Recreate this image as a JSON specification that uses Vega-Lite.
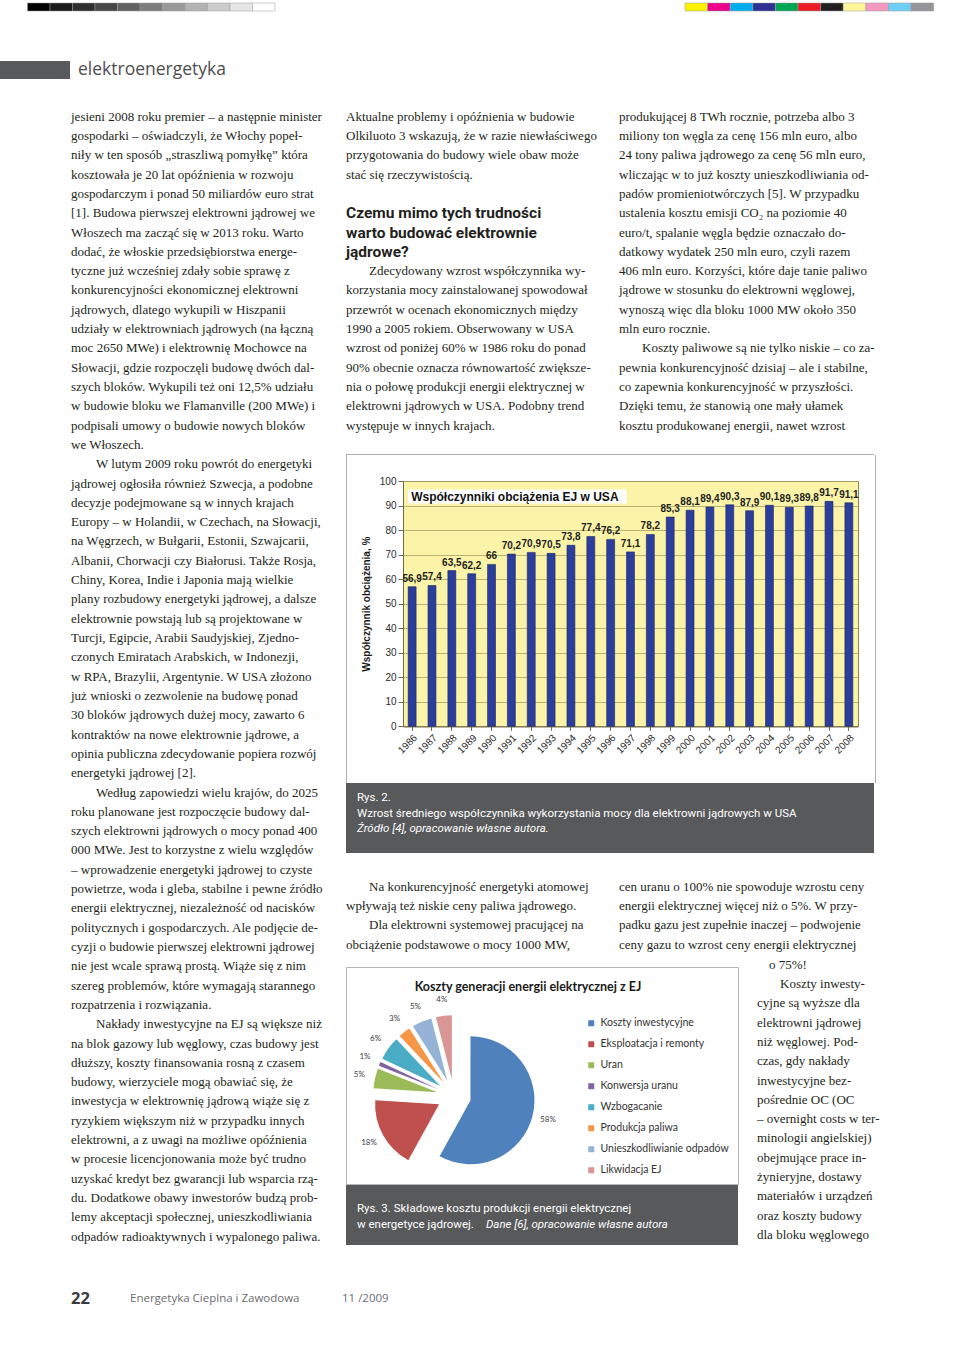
{
"$schema": "https://vega.github.io/schema/vega-lite/v6.json",
"background": "white",
"padding": {"left": 0, "top": 2, "right": 0, "bottom": 0},
"spacing": 0,
"resolve": {"scale": {"color": "independent"}, "legend": {"color": "independent"}},
"config": {
  "view": {"stroke": null},
  "locale": {"number": {"decimal": ",", "thousands": "\u00a0", "grouping": [3], "currency": ["", "\u00a0zł"]}},
  "text": {"font": "Liberation Serif", "fontSize": 13, "color": "#231f20", "align": "left", "baseline": "middle"},
  "axis": {"labelFont": "Liberation Sans", "titleFont": "Liberation Sans"}
},
"datasets": {
  "colA": [
    {"line": 0, "text": "jesieni 2008 roku premier – a następnie minister"},
    {"line": 1, "text": "gospodarki – oświadczyli, że Włochy popeł-"},
    {"line": 2, "text": "niły w ten sposób „straszliwą pomyłkę” która"},
    {"line": 3, "text": "kosztowała je 20 lat opóźnienia w rozwoju"},
    {"line": 4, "text": "gospodarczym i ponad 50 miliardów euro strat"},
    {"line": 5, "text": "[1]. Budowa pierwszej elektrowni jądrowej we"},
    {"line": 6, "text": "Włoszech ma zacząć się w 2013 roku. Warto"},
    {"line": 7, "text": "dodać, że włoskie przedsiębiorstwa energe-"},
    {"line": 8, "text": "tyczne już wcześniej zdały sobie sprawę z"},
    {"line": 9, "text": "konkurencyjności ekonomicznej elektrowni"},
    {"line": 10, "text": "jądrowych, dlatego wykupili w Hiszpanii"},
    {"line": 11, "text": "udziały w elektrowniach jądrowych (na łączną"},
    {"line": 12, "text": "moc 2650 MWe) i elektrownię Mochowce na"},
    {"line": 13, "text": "Słowacji, gdzie rozpoczęli budowę dwóch dal-"},
    {"line": 14, "text": "szych bloków. Wykupili też oni 12,5% udziału"},
    {"line": 15, "text": "w budowie bloku we Flamanville (200 MWe) i"},
    {"line": 16, "text": "podpisali umowy o budowie nowych bloków"},
    {"line": 17, "text": "we Włoszech."},
    {"line": 19, "text": "jądrowej ogłosiła również Szwecja, a podobne"},
    {"line": 20, "text": "decyzje podejmowane są w innych krajach"},
    {"line": 21, "text": "Europy – w Holandii, w Czechach, na Słowacji,"},
    {"line": 22, "text": "na Węgrzech, w Bułgarii, Estonii, Szwajcarii,"},
    {"line": 23, "text": "Albanii, Chorwacji czy Białorusi. Także Rosja,"},
    {"line": 24, "text": "Chiny, Korea, Indie i Japonia mają wielkie"},
    {"line": 25, "text": "plany rozbudowy energetyki jądrowej, a dalsze"},
    {"line": 26, "text": "elektrownie powstają lub są projektowane w"},
    {"line": 27, "text": "Turcji, Egipcie, Arabii Saudyjskiej, Zjedno-"},
    {"line": 28, "text": "czonych Emiratach Arabskich, w Indonezji,"},
    {"line": 29, "text": "w RPA, Brazylii, Argentynie. W USA złożono"},
    {"line": 30, "text": "już wnioski o zezwolenie na budowę ponad"},
    {"line": 31, "text": "30 bloków jądrowych dużej mocy, zawarto 6"},
    {"line": 32, "text": "kontraktów na nowe elektrownie jądrowe, a"},
    {"line": 33, "text": "opinia publiczna zdecydowanie popiera rozwój"},
    {"line": 34, "text": "energetyki jądrowej [2]."},
    {"line": 36, "text": "roku planowane jest rozpoczęcie budowy dal-"},
    {"line": 37, "text": "szych elektrowni jądrowych o mocy ponad 400"},
    {"line": 38, "text": "000 MWe. Jest to korzystne z wielu względów"},
    {"line": 39, "text": "– wprowadzenie energetyki jądrowej to czyste"},
    {"line": 40, "text": "powietrze, woda i gleba, stabilne i pewne źródło"},
    {"line": 41, "text": "energii elektrycznej, niezależność od nacisków"},
    {"line": 42, "text": "politycznych i gospodarczych. Ale podjęcie de-"},
    {"line": 43, "text": "cyzji o budowie pierwszej elektrowni jądrowej"},
    {"line": 44, "text": "nie jest wcale sprawą prostą. Wiąże się z nim"},
    {"line": 45, "text": "szereg problemów, które wymagają starannego"},
    {"line": 46, "text": "rozpatrzenia i rozwiązania."},
    {"line": 48, "text": "na blok gazowy lub węglowy, czas budowy jest"},
    {"line": 49, "text": "dłuższy, koszty finansowania rosną z czasem"},
    {"line": 50, "text": "budowy, wierzyciele mogą obawiać się, że"},
    {"line": 51, "text": "inwestycja w elektrownię jądrową wiąże się z"},
    {"line": 52, "text": "ryzykiem większym niż w przypadku innych"},
    {"line": 53, "text": "elektrowni, a z uwagi na możliwe opóźnienia"},
    {"line": 54, "text": "w procesie licencjonowania może być trudno"},
    {"line": 55, "text": "uzyskać kredyt bez gwarancji lub wsparcia rzą-"},
    {"line": 56, "text": "du. Dodatkowe obawy inwestorów budzą prob-"},
    {"line": 57, "text": "lemy akceptacji społecznej, unieszkodliwiania"},
    {"line": 58, "text": "odpadów radioaktywnych i wypalonego paliwa."}
  ],
  "colAi": [
    {"line": 18, "text": "W lutym 2009 roku powrót do energetyki"},
    {"line": 35, "text": "Według zapowiedzi wielu krajów, do 2025"},
    {"line": 47, "text": "Nakłady inwestycyjne na EJ są większe niż"}
  ],
  "bTop": [
    {"line": 0, "text": "Aktualne problemy i opóźnienia w budowie"},
    {"line": 1, "text": "Olkiluoto 3 wskazują, że w razie niewłaściwego"},
    {"line": 2, "text": "przygotowania do budowy wiele obaw może"},
    {"line": 3, "text": "stać się rzeczywistością."},
    {"line": 9, "text": "korzystania mocy zainstalowanej spowodował"},
    {"line": 10, "text": "przewrót w ocenach ekonomicznych między"},
    {"line": 11, "text": "1990 a 2005 rokiem. Obserwowany w USA"},
    {"line": 12, "text": "wzrost od poniżej 60% w 1986 roku do ponad"},
    {"line": 13, "text": "90% obecnie oznacza równowartość zwiększe-"},
    {"line": 14, "text": "nia o połowę produkcji energii elektrycznej w"},
    {"line": 15, "text": "elektrowni jądrowych w USA. Podobny trend"},
    {"line": 16, "text": "występuje w innych krajach."}
  ],
  "bTopi": [
    {"line": 8, "text": "Zdecydowany wzrost współczynnika wy-"}
  ],
  "bHead": [
    {"line": 5, "text": "Czemu mimo tych trudności"},
    {"line": 6, "text": "warto budować elektrownie"},
    {"line": 7, "text": "jądrowe?"}
  ],
  "cTop": [
    {"line": 0, "text": "produkującej 8 TWh rocznie, potrzeba albo 3"},
    {"line": 1, "text": "miliony ton węgla za cenę 156 mln euro, albo"},
    {"line": 2, "text": "24 tony paliwa jądrowego za cenę 56 mln euro,"},
    {"line": 3, "text": "wliczając w to już koszty unieszkodliwiania od-"},
    {"line": 4, "text": "padów promieniotwórczych [5]. W przypadku"},
    {"line": 5, "text": "ustalenia kosztu emisji CO₂ na poziomie 40"},
    {"line": 6, "text": "euro/t, spalanie węgla będzie oznaczało do-"},
    {"line": 7, "text": "datkowy wydatek 250 mln euro, czyli razem"},
    {"line": 8, "text": "406 mln euro. Korzyści, które daje tanie paliwo"},
    {"line": 9, "text": "jądrowe w stosunku do elektrowni węglowej,"},
    {"line": 10, "text": "wynoszą więc dla bloku 1000 MW około 350"},
    {"line": 11, "text": "mln euro rocznie."},
    {"line": 13, "text": "pewnia konkurencyjność dzisiaj – ale i stabilne,"},
    {"line": 14, "text": "co zapewnia konkurencyjność w przyszłości."},
    {"line": 15, "text": "Dzięki temu, że stanowią one mały ułamek"},
    {"line": 16, "text": "kosztu produkowanej energii, nawet wzrost"}
  ],
  "cTopi": [
    {"line": 12, "text": "Koszty paliwowe są nie tylko niskie – co za-"}
  ],
  "bBot": [
    {"line": 1, "text": "wpływają też niskie ceny paliwa jądrowego."},
    {"line": 3, "text": "obciążenie podstawowe o mocy 1000 MW,"}
  ],
  "bBoti": [
    {"line": 0, "text": "Na konkurencyjność energetyki atomowej"},
    {"line": 2, "text": "Dla elektrowni systemowej pracującej na"}
  ],
  "cBot": [
    {"line": 0, "text": "cen uranu o 100% nie spowoduje wzrostu ceny"},
    {"line": 1, "text": "energii elektrycznej więcej niż o 5%. W przy-"},
    {"line": 2, "text": "padku gazu jest zupełnie inaczej – podwojenie"},
    {"line": 3, "text": "ceny gazu to wzrost ceny energii elektrycznej"}
  ],
  "colD": [
    {"line": 2, "text": "cyjne są wyższe dla"},
    {"line": 3, "text": "elektrowni jądrowej"},
    {"line": 4, "text": "niż węglowej. Pod-"},
    {"line": 5, "text": "czas, gdy nakłady"},
    {"line": 6, "text": "inwestycyjne bez-"},
    {"line": 7, "text": "pośrednie OC (OC"},
    {"line": 8, "text": "– overnight costs w ter-"},
    {"line": 9, "text": "minologii angielskiej)"},
    {"line": 10, "text": "obejmujące prace in-"},
    {"line": 11, "text": "żynieryjne, dostawy"},
    {"line": 12, "text": "materiałów i urządzeń"},
    {"line": 13, "text": "oraz koszty budowy"},
    {"line": 14, "text": "dla bloku węglowego"}
  ],
  "colDi": [
    {"line": 1, "text": "Koszty inwesty-"}
  ],
  "colDc": [
    {"line": 0, "text": "o 75%!"}
  ],
  "bars": [
    {"year": "1986", "value": 56.9}, {"year": "1987", "value": 57.4}, {"year": "1988", "value": 63.5},
    {"year": "1989", "value": 62.2}, {"year": "1990", "value": 66}, {"year": "1991", "value": 70.2},
    {"year": "1992", "value": 70.9}, {"year": "1993", "value": 70.5}, {"year": "1994", "value": 73.8},
    {"year": "1995", "value": 77.4}, {"year": "1996", "value": 76.2}, {"year": "1997", "value": 71.1},
    {"year": "1998", "value": 78.2}, {"year": "1999", "value": 85.3}, {"year": "2000", "value": 88.1},
    {"year": "2001", "value": 89.4}, {"year": "2002", "value": 90.3}, {"year": "2003", "value": 87.9},
    {"year": "2004", "value": 90.1}, {"year": "2005", "value": 89.3}, {"year": "2006", "value": 89.8},
    {"year": "2007", "value": 91.7}, {"year": "2008", "value": 91.1}
  ],
  "pie": [
    {"k": "Koszty inwestycyjne", "share": 0.58},
    {"k": "Eksploatacja i remonty", "share": 0.18},
    {"k": "Uran", "share": 0.05},
    {"k": "Konwersja uranu", "share": 0.01},
    {"k": "Wzbogacanie", "share": 0.06},
    {"k": "Produkcja paliwa", "share": 0.03},
    {"k": "Unieszkodliwianie odpadów", "share": 0.05},
    {"k": "Likwidacja EJ", "share": 0.04}
  ]
},
"vconcat": [
  {"hconcat": [
    {"width": 480, "height": 8, "data": {"values": [{"i": 1}, {"i": 2}, {"i": 3}, {"i": 4}, {"i": 5}, {"i": 6}, {"i": 7}, {"i": 8}, {"i": 9}, {"i": 10}, {"i": 11}]},
     "mark": {"type": "bar", "stroke": "#9a9a9a", "strokeWidth": 0.5},
     "encoding": {
       "x": {"field": "i", "type": "ordinal", "scale": {"range": [27.5, 275], "paddingInner": 0, "paddingOuter": 0}, "axis": null},
       "color": {"field": "i", "type": "ordinal", "scale": {"range": ["#000000", "#1a1a1a", "#2e2e2e", "#474747", "#616161", "#7d7d7d", "#999999", "#b3b3b3", "#cccccc", "#e6e6e6", "#ffffff"]}, "legend": null}
     }},
    {"width": 480, "height": 8, "data": {"values": [{"i": 1}, {"i": 2}, {"i": 3}, {"i": 4}, {"i": 5}, {"i": 6}, {"i": 7}, {"i": 8}, {"i": 9}, {"i": 10}, {"i": 11}]},
     "mark": {"type": "bar", "stroke": "#9a9a9a", "strokeWidth": 0.5},
     "encoding": {
       "x": {"field": "i", "type": "ordinal", "scale": {"range": [205, 453.7], "paddingInner": 0, "paddingOuter": 0}, "axis": null},
       "color": {"field": "i", "type": "ordinal", "scale": {"range": ["#fff200", "#ec008c", "#00aeef", "#2e3192", "#00a651", "#ed1c24", "#231f20", "#fff799", "#f49ac1", "#6dcff6", "#939598"]}, "legend": null}
     }}
  ], "spacing": 0, "resolve": {"scale": {"color": "independent"}, "legend": {"color": "independent"}}},
  {"width": 1, "height": 49, "data": {"values": []}, "mark": {"type": "point", "opacity": 0}},
  {"hconcat": [
    {"width": 70, "height": 18, "view": {"fill": "#58595b"}, "data": {"values": []}, "mark": {"type": "point", "opacity": 0}},
    {"width": 300, "height": 18, "data": {"values": [{"t": "elektroenergetyka"}]},
     "mark": {"type": "text", "font": "Open Sans", "fontSize": 17.5, "color": "#4d4d4f"},
     "encoding": {"x": {"value": 0}, "text": {"field": "t", "type": "nominal"}}}
  ], "spacing": 8},
  {"width": 1, "height": 27.8, "data": {"values": []}, "mark": {"type": "point", "opacity": 0}},
  {"hconcat": [
    {"width": 71, "height": 1, "data": {"values": []}, "mark": {"type": "point", "opacity": 0}},
    {"width": 255, "height": 1139.3, "layer": [
      {"data": {"name": "colA"}, "mark": {"type": "text"},
       "encoding": {"x": {"value": 0}, "y": {"field": "line", "type": "quantitative", "scale": {"domain": [-0.5, 58.5], "reverse": true, "zero": false, "nice": false}, "axis": null}, "text": {"field": "text", "type": "nominal"}}},
      {"data": {"name": "colAi"}, "mark": {"type": "text", "dx": 25},
       "encoding": {"x": {"value": 0}, "y": {"field": "line", "type": "quantitative", "scale": {"domain": [-0.5, 58.5], "reverse": true, "zero": false, "nice": false}, "axis": null}, "text": {"field": "text", "type": "nominal"}}}
    ]},
    {"width": 19, "height": 1, "data": {"values": []}, "mark": {"type": "point", "opacity": 0}},
    {"vconcat": [
      {"hconcat": [
        {"width": 255, "height": 328.27, "layer": [
          {"data": {"name": "bTop"}, "mark": {"type": "text"},
           "encoding": {"x": {"value": 0}, "y": {"field": "line", "type": "quantitative", "scale": {"domain": [-0.5, 16.5], "reverse": true, "zero": false, "nice": false}, "axis": null}, "text": {"field": "text", "type": "nominal"}}},
          {"data": {"name": "bTopi"}, "mark": {"type": "text", "dx": 23},
           "encoding": {"x": {"value": 0}, "y": {"field": "line", "type": "quantitative", "scale": {"domain": [-0.5, 16.5], "reverse": true, "zero": false, "nice": false}, "axis": null}, "text": {"field": "text", "type": "nominal"}}},
          {"data": {"name": "bHead"}, "mark": {"type": "text", "font": "Roboto", "fontWeight": "bold", "fontSize": 15.5, "color": "#231f20"},
           "encoding": {"x": {"value": 0}, "y": {"field": "line", "type": "quantitative", "scale": {"domain": [-0.5, 16.5], "reverse": true, "zero": false, "nice": false}, "axis": null}, "text": {"field": "text", "type": "nominal"}}}
        ]},
        {"width": 255, "height": 328.27, "layer": [
          {"data": {"name": "cTop"}, "mark": {"type": "text"},
           "encoding": {"x": {"value": 0}, "y": {"field": "line", "type": "quantitative", "scale": {"domain": [-0.5, 16.5], "reverse": true, "zero": false, "nice": false}, "axis": null}, "text": {"field": "text", "type": "nominal"}}},
          {"data": {"name": "cTopi"}, "mark": {"type": "text", "dx": 23},
           "encoding": {"x": {"value": 0}, "y": {"field": "line", "type": "quantitative", "scale": {"domain": [-0.5, 16.5], "reverse": true, "zero": false, "nice": false}, "axis": null}, "text": {"field": "text", "type": "nominal"}}}
        ]}
      ], "spacing": 18},
      {"width": 1, "height": 17.4, "data": {"values": []}, "mark": {"type": "point", "opacity": 0}},
      {"vconcat": [
        {"width": 528, "height": 1, "view": {"fill": "#b0b0b0"}, "data": {"values": []}, "mark": {"type": "point", "opacity": 0}},
        {"hconcat": [
          {"width": 1, "height": 328, "view": {"fill": "#b0b0b0"}, "data": {"values": []}, "mark": {"type": "point", "opacity": 0}},
          {"vconcat": [
            {"width": 1, "height": 19.4, "data": {"values": []}, "mark": {"type": "point", "opacity": 0}},
            {"hconcat": [
              {"width": 13, "height": 1, "data": {"values": []}, "mark": {"type": "point", "opacity": 0}},
              {"width": 455, "height": 245.3,
               "view": {"fill": "#fbf4a8", "stroke": "#8d8756", "strokeWidth": 1},
               "layer": [
                 {"data": {"name": "bars"}, "mark": {"type": "bar", "fill": "#2c3e9c", "stroke": "#1b2466", "strokeWidth": 0.6},
                  "encoding": {
                    "x": {"field": "year", "type": "ordinal", "scale": {"paddingInner": 0.6, "paddingOuter": 0.26},
                          "axis": {"title": null, "labelAngle": -45, "labelFontSize": 10, "labelColor": "#2b2b2b", "domainColor": "#6f6b4b", "tickColor": "#6f6b4b", "tickSize": 4, "labelPadding": 2}},
                    "y": {"field": "value", "type": "quantitative", "scale": {"domain": [0, 100], "nice": false},
                          "axis": {"title": "Współczynnik obciążenia, %", "grid": true, "gridColor": "#a9a165", "gridWidth": 0.8, "values": [0, 10, 20, 30, 40, 50, 60, 70, 80, 90, 100], "tickCount": 12, "labelOverlap": false, "domainColor": "#6f6b4b", "tickColor": "#6f6b4b", "tickSize": 5, "labelFontSize": 10, "labelColor": "#2b2b2b", "labelPadding": 2, "titleFontSize": 10, "titleFontWeight": "bold", "titleColor": "#1a1a1a", "titlePadding": 8.3}}
                  }},
                 {"data": {"name": "bars"}, "mark": {"type": "text", "font": "Liberation Sans", "fontSize": 10, "fontWeight": "bold", "align": "center", "baseline": "bottom", "dy": -3, "color": "#1e1e1e"},
                  "encoding": {
                    "x": {"field": "year", "type": "ordinal"},
                    "y": {"field": "value", "type": "quantitative",
                          "axis": {"title": "Współczynnik obciążenia, %", "grid": true, "gridColor": "#a9a165", "gridWidth": 0.8, "values": [0, 10, 20, 30, 40, 50, 60, 70, 80, 90, 100], "tickCount": 12, "labelOverlap": false, "domainColor": "#6f6b4b", "tickColor": "#6f6b4b", "tickSize": 5, "labelFontSize": 10, "labelColor": "#2b2b2b", "labelPadding": 2, "titleFontSize": 10, "titleFontWeight": "bold", "titleColor": "#1a1a1a", "titlePadding": 8.3}},
                    "text": {"field": "value", "type": "quantitative", "format": ".1~f"}
                  }},
                 {"data": {"values": [{}]}, "mark": {"type": "rect", "fill": "white"},
                  "encoding": {
                    "x": {"datum": "1986", "bandPosition": 0},
                    "x2": {"datum": "1997", "bandPosition": 0},
                    "y": {"datum": 90.8,
                          "axis": {"title": "Współczynnik obciążenia, %", "grid": true, "gridColor": "#a9a165", "gridWidth": 0.8, "values": [0, 10, 20, 30, 40, 50, 60, 70, 80, 90, 100], "tickCount": 12, "labelOverlap": false, "domainColor": "#6f6b4b", "tickColor": "#6f6b4b", "tickSize": 5, "labelFontSize": 10, "labelColor": "#2b2b2b", "labelPadding": 2, "titleFontSize": 10, "titleFontWeight": "bold", "titleColor": "#1a1a1a", "titlePadding": 8.3}},
                    "y2": {"datum": 96.5}
                  }},
                 {"data": {"values": [{"t": "Współczynniki obciążenia EJ w USA"}]},
                  "mark": {"type": "text", "font": "Liberation Sans", "fontWeight": "bold", "fontSize": 12, "align": "left", "baseline": "middle", "dx": 3, "color": "#111111"},
                  "encoding": {
                    "x": {"datum": "1986", "bandPosition": 0},
                    "y": {"datum": 93.6,
                          "axis": {"title": "Współczynnik obciążenia, %", "grid": true, "gridColor": "#a9a165", "gridWidth": 0.8, "values": [0, 10, 20, 30, 40, 50, 60, 70, 80, 90, 100], "tickCount": 12, "labelOverlap": false, "domainColor": "#6f6b4b", "tickColor": "#6f6b4b", "tickSize": 5, "labelFontSize": 10, "labelColor": "#2b2b2b", "labelPadding": 2, "titleFontSize": 10, "titleFontWeight": "bold", "titleColor": "#1a1a1a", "titlePadding": 8.3}},
                    "text": {"field": "t", "type": "nominal"}
                  }}
               ]}
            ], "spacing": 0}
          ], "spacing": 0},
          {"width": 15, "height": 1, "data": {"values": []}, "mark": {"type": "point", "opacity": 0}},
          {"width": 1, "height": 328, "view": {"fill": "#b0b0b0"}, "data": {"values": []}, "mark": {"type": "point", "opacity": 0}}
        ], "spacing": 0}
      ], "spacing": 0},
      {"width": 528, "height": 70, "view": {"fill": "#58595b"},
       "layer": [
         {"data": {"values": [{"line": 1, "text": "Rys. 2."}, {"line": 2, "text": "Wzrost średniego współczynnika wykorzystania mocy dla elektrowni jądrowych w USA"}]},
          "mark": {"type": "text", "font": "Roboto", "fontSize": 11.5, "color": "#ffffff"},
          "encoding": {"x": {"value": 11}, "y": {"field": "line", "type": "quantitative", "scale": {"domain": [1, 3], "range": [15, 46]}, "axis": null}, "text": {"field": "text", "type": "nominal"}}},
         {"data": {"values": [{"line": 3, "text": "Źródło [4], opracowanie własne autora."}]},
          "mark": {"type": "text", "font": "Roboto", "fontSize": 11.5, "fontStyle": "italic", "color": "#ffffff"},
          "encoding": {"x": {"value": 11}, "y": {"field": "line", "type": "quantitative", "scale": {"domain": [1, 3], "range": [15, 46]}, "axis": null}, "text": {"field": "text", "type": "nominal"}}}
       ]},
      {"width": 1, "height": 23.3, "data": {"values": []}, "mark": {"type": "point", "opacity": 0}},
      {"hconcat": [
        {"width": 255, "height": 77.24, "layer": [
          {"data": {"name": "bBot"}, "mark": {"type": "text"},
           "encoding": {"x": {"value": 0}, "y": {"field": "line", "type": "quantitative", "scale": {"domain": [-0.5, 3.5], "reverse": true, "zero": false, "nice": false}, "axis": null}, "text": {"field": "text", "type": "nominal"}}},
          {"data": {"name": "bBoti"}, "mark": {"type": "text", "dx": 23},
           "encoding": {"x": {"value": 0}, "y": {"field": "line", "type": "quantitative", "scale": {"domain": [-0.5, 3.5], "reverse": true, "zero": false, "nice": false}, "axis": null}, "text": {"field": "text", "type": "nominal"}}}
        ]},
        {"width": 255, "height": 77.24, "data": {"name": "cBot"}, "mark": {"type": "text"},
         "encoding": {"x": {"value": 0}, "y": {"field": "line", "type": "quantitative", "scale": {"domain": [-0.5, 3.5], "reverse": true, "zero": false, "nice": false}, "axis": null}, "text": {"field": "text", "type": "nominal"}}}
      ], "spacing": 18},
      {"hconcat": [
        {"vconcat": [
          {"width": 1, "height": 10.5, "data": {"values": []}, "mark": {"type": "point", "opacity": 0}},
          {"width": 392, "height": 217,
           "view": {"fill": "white", "stroke": "#b5b5b5", "strokeWidth": 1},
           "layer": [
             {"data": {"name": "pie"},
              "transform": [
                {"window": [{"op": "sum", "field": "share", "as": "c1"}], "frame": [null, 0], "ignorePeers": true},
                {"calculate": "datum.c1 - datum.share", "as": "c0"},
                {"calculate": "datum.c1 - datum.share / 2", "as": "mid"},
                {"calculate": "sin(2 * PI * datum.mid)", "as": "ex"},
                {"calculate": "cos(2 * PI * datum.mid)", "as": "ey"}
              ],
              "mark": {"type": "arc", "radius": 64},
              "encoding": {
                "x": {"field": "ex", "type": "quantitative", "stack": null, "scale": {"domain": [-1, 1], "range": [91, 125]}, "axis": null},
                "y": {"field": "ey", "type": "quantitative", "stack": null, "scale": {"domain": [-1, 1], "range": [146, 112]}, "axis": null},
                "theta": {"field": "c0", "type": "quantitative", "stack": null, "scale": {"domain": [0, 1]}},
                "theta2": {"field": "c1"},
                "color": {"field": "k", "type": "nominal",
                  "scale": {"domain": ["Koszty inwestycyjne", "Eksploatacja i remonty", "Uran", "Konwersja uranu", "Wzbogacanie", "Produkcja paliwa", "Unieszkodliwianie odpadów", "Likwidacja EJ"],
                            "range": ["#4f81bd", "#c0504d", "#9bbb59", "#8064a2", "#4bacc6", "#f79646", "#95b3d7", "#d99694"]},
                  "legend": {"orient": "none", "legendX": 240, "legendY": 51, "title": null, "symbolType": "square", "symbolSize": 36, "symbolStrokeWidth": 0, "labelFont": "Lato", "labelFontSize": 10.5, "labelColor": "#333333", "rowPadding": 10, "labelLimit": 200, "labelOffset": 4}}
              }},
             {"data": {"name": "pie"},
              "transform": [
                {"window": [{"op": "sum", "field": "share", "as": "c1"}], "frame": [null, 0], "ignorePeers": true},
                {"calculate": "datum.c1 - datum.share / 2", "as": "mid"},
                {"calculate": "sin(2 * PI * datum.mid)", "as": "ex"},
                {"calculate": "cos(2 * PI * datum.mid)", "as": "ey"}
              ],
              "mark": {"type": "text", "radius": 80, "font": "Lato", "fontSize": 8, "align": "center", "baseline": "middle", "color": "#404040"},
              "encoding": {
                "x": {"field": "ex", "type": "quantitative", "stack": null, "scale": {"domain": [-1, 1], "range": [91, 125]}, "axis": null},
                "y": {"field": "ey", "type": "quantitative", "stack": null, "scale": {"domain": [-1, 1], "range": [146, 112]}, "axis": null},
                "theta": {"field": "mid", "type": "quantitative", "stack": null, "scale": {"domain": [0, 1]}},
                "text": {"field": "share", "type": "quantitative", "format": ".0%"}
              }},
             {"data": {"values": [{"t": "Koszty generacji energii elektrycznej z EJ"}]},
              "mark": {"type": "text", "font": "Lato", "fontWeight": "bold", "fontSize": 12.5, "align": "center", "baseline": "middle", "color": "#1a1a1a"},
              "encoding": {"x": {"value": 182}, "y": {"value": 20}, "text": {"field": "t", "type": "nominal"}}}
           ]},
          {"width": 392, "height": 60, "view": {"fill": "#58595b"},
           "layer": [
             {"data": {"values": [{"line": 1, "text": "Rys. 3. Składowe kosztu produkcji energii elektrycznej"}, {"line": 2, "text": "w energetyce jądrowej."}]},
              "mark": {"type": "text", "font": "Roboto", "fontSize": 11.5, "color": "#ffffff"},
              "encoding": {"x": {"value": 11}, "y": {"field": "line", "type": "quantitative", "scale": {"domain": [1, 2], "range": [24, 40]}, "axis": null}, "text": {"field": "text", "type": "nominal"}}},
             {"data": {"values": [{"line": 2, "text": "Dane [6], opracowanie własne autora"}]},
              "mark": {"type": "text", "font": "Roboto", "fontSize": 11.5, "fontStyle": "italic", "color": "#ffffff"},
              "encoding": {"x": {"value": 140}, "y": {"field": "line", "type": "quantitative", "scale": {"domain": [1, 2], "range": [24, 40]}, "axis": null}, "text": {"field": "text", "type": "nominal"}}}
           ]}
        ], "spacing": 0, "resolve": {"scale": {"color": "independent"}, "legend": {"color": "independent"}}},
        {"width": 18, "height": 1, "data": {"values": []}, "mark": {"type": "point", "opacity": 0}},
        {"width": 118, "height": 289.65, "layer": [
          {"data": {"name": "colD"}, "mark": {"type": "text"},
           "encoding": {"x": {"value": 0}, "y": {"field": "line", "type": "quantitative", "scale": {"domain": [-0.5, 14.5], "reverse": true, "zero": false, "nice": false}, "axis": null}, "text": {"field": "text", "type": "nominal"}}},
          {"data": {"name": "colDi"}, "mark": {"type": "text", "dx": 23},
           "encoding": {"x": {"value": 0}, "y": {"field": "line", "type": "quantitative", "scale": {"domain": [-0.5, 14.5], "reverse": true, "zero": false, "nice": false}, "axis": null}, "text": {"field": "text", "type": "nominal"}}},
          {"data": {"name": "colDc"}, "mark": {"type": "text", "dx": 12},
           "encoding": {"x": {"value": 0}, "y": {"field": "line", "type": "quantitative", "scale": {"domain": [-0.5, 14.5], "reverse": true, "zero": false, "nice": false}, "axis": null}, "text": {"field": "text", "type": "nominal"}}}
        ]}
      ], "spacing": 0, "resolve": {"scale": {"color": "independent"}, "legend": {"color": "independent"}}}
    ], "spacing": 0, "resolve": {"scale": {"color": "independent"}, "legend": {"color": "independent"}}}
  ], "spacing": 0, "resolve": {"scale": {"color": "independent"}, "legend": {"color": "independent"}}},
  {"width": 1, "height": 42, "data": {"values": []}, "mark": {"type": "point", "opacity": 0}},
  {"hconcat": [
    {"width": 71, "height": 20, "data": {"values": []}, "mark": {"type": "point", "opacity": 0}},
    {"width": 59, "height": 20, "data": {"values": [{"t": "22"}]},
     "mark": {"type": "text", "font": "Open Sans", "fontWeight": "bold", "fontSize": 16.5, "color": "#3a3a3c"},
     "encoding": {"x": {"value": 0}, "text": {"field": "t", "type": "nominal"}}},
    {"width": 212, "height": 20, "data": {"values": [{"t": "Energetyka Cieplna i Zawodowa"}]},
     "mark": {"type": "text", "font": "Open Sans", "fontSize": 11.5, "color": "#6d6e70"},
     "encoding": {"x": {"value": 0}, "text": {"field": "t", "type": "nominal"}}},
    {"width": 60, "height": 20, "data": {"values": [{"t": "11 /2009"}]},
     "mark": {"type": "text", "font": "Open Sans", "fontSize": 11.5, "color": "#6d6e70"},
     "encoding": {"x": {"value": 0}, "text": {"field": "t", "type": "nominal"}}}
  ], "spacing": 0}
]
}
